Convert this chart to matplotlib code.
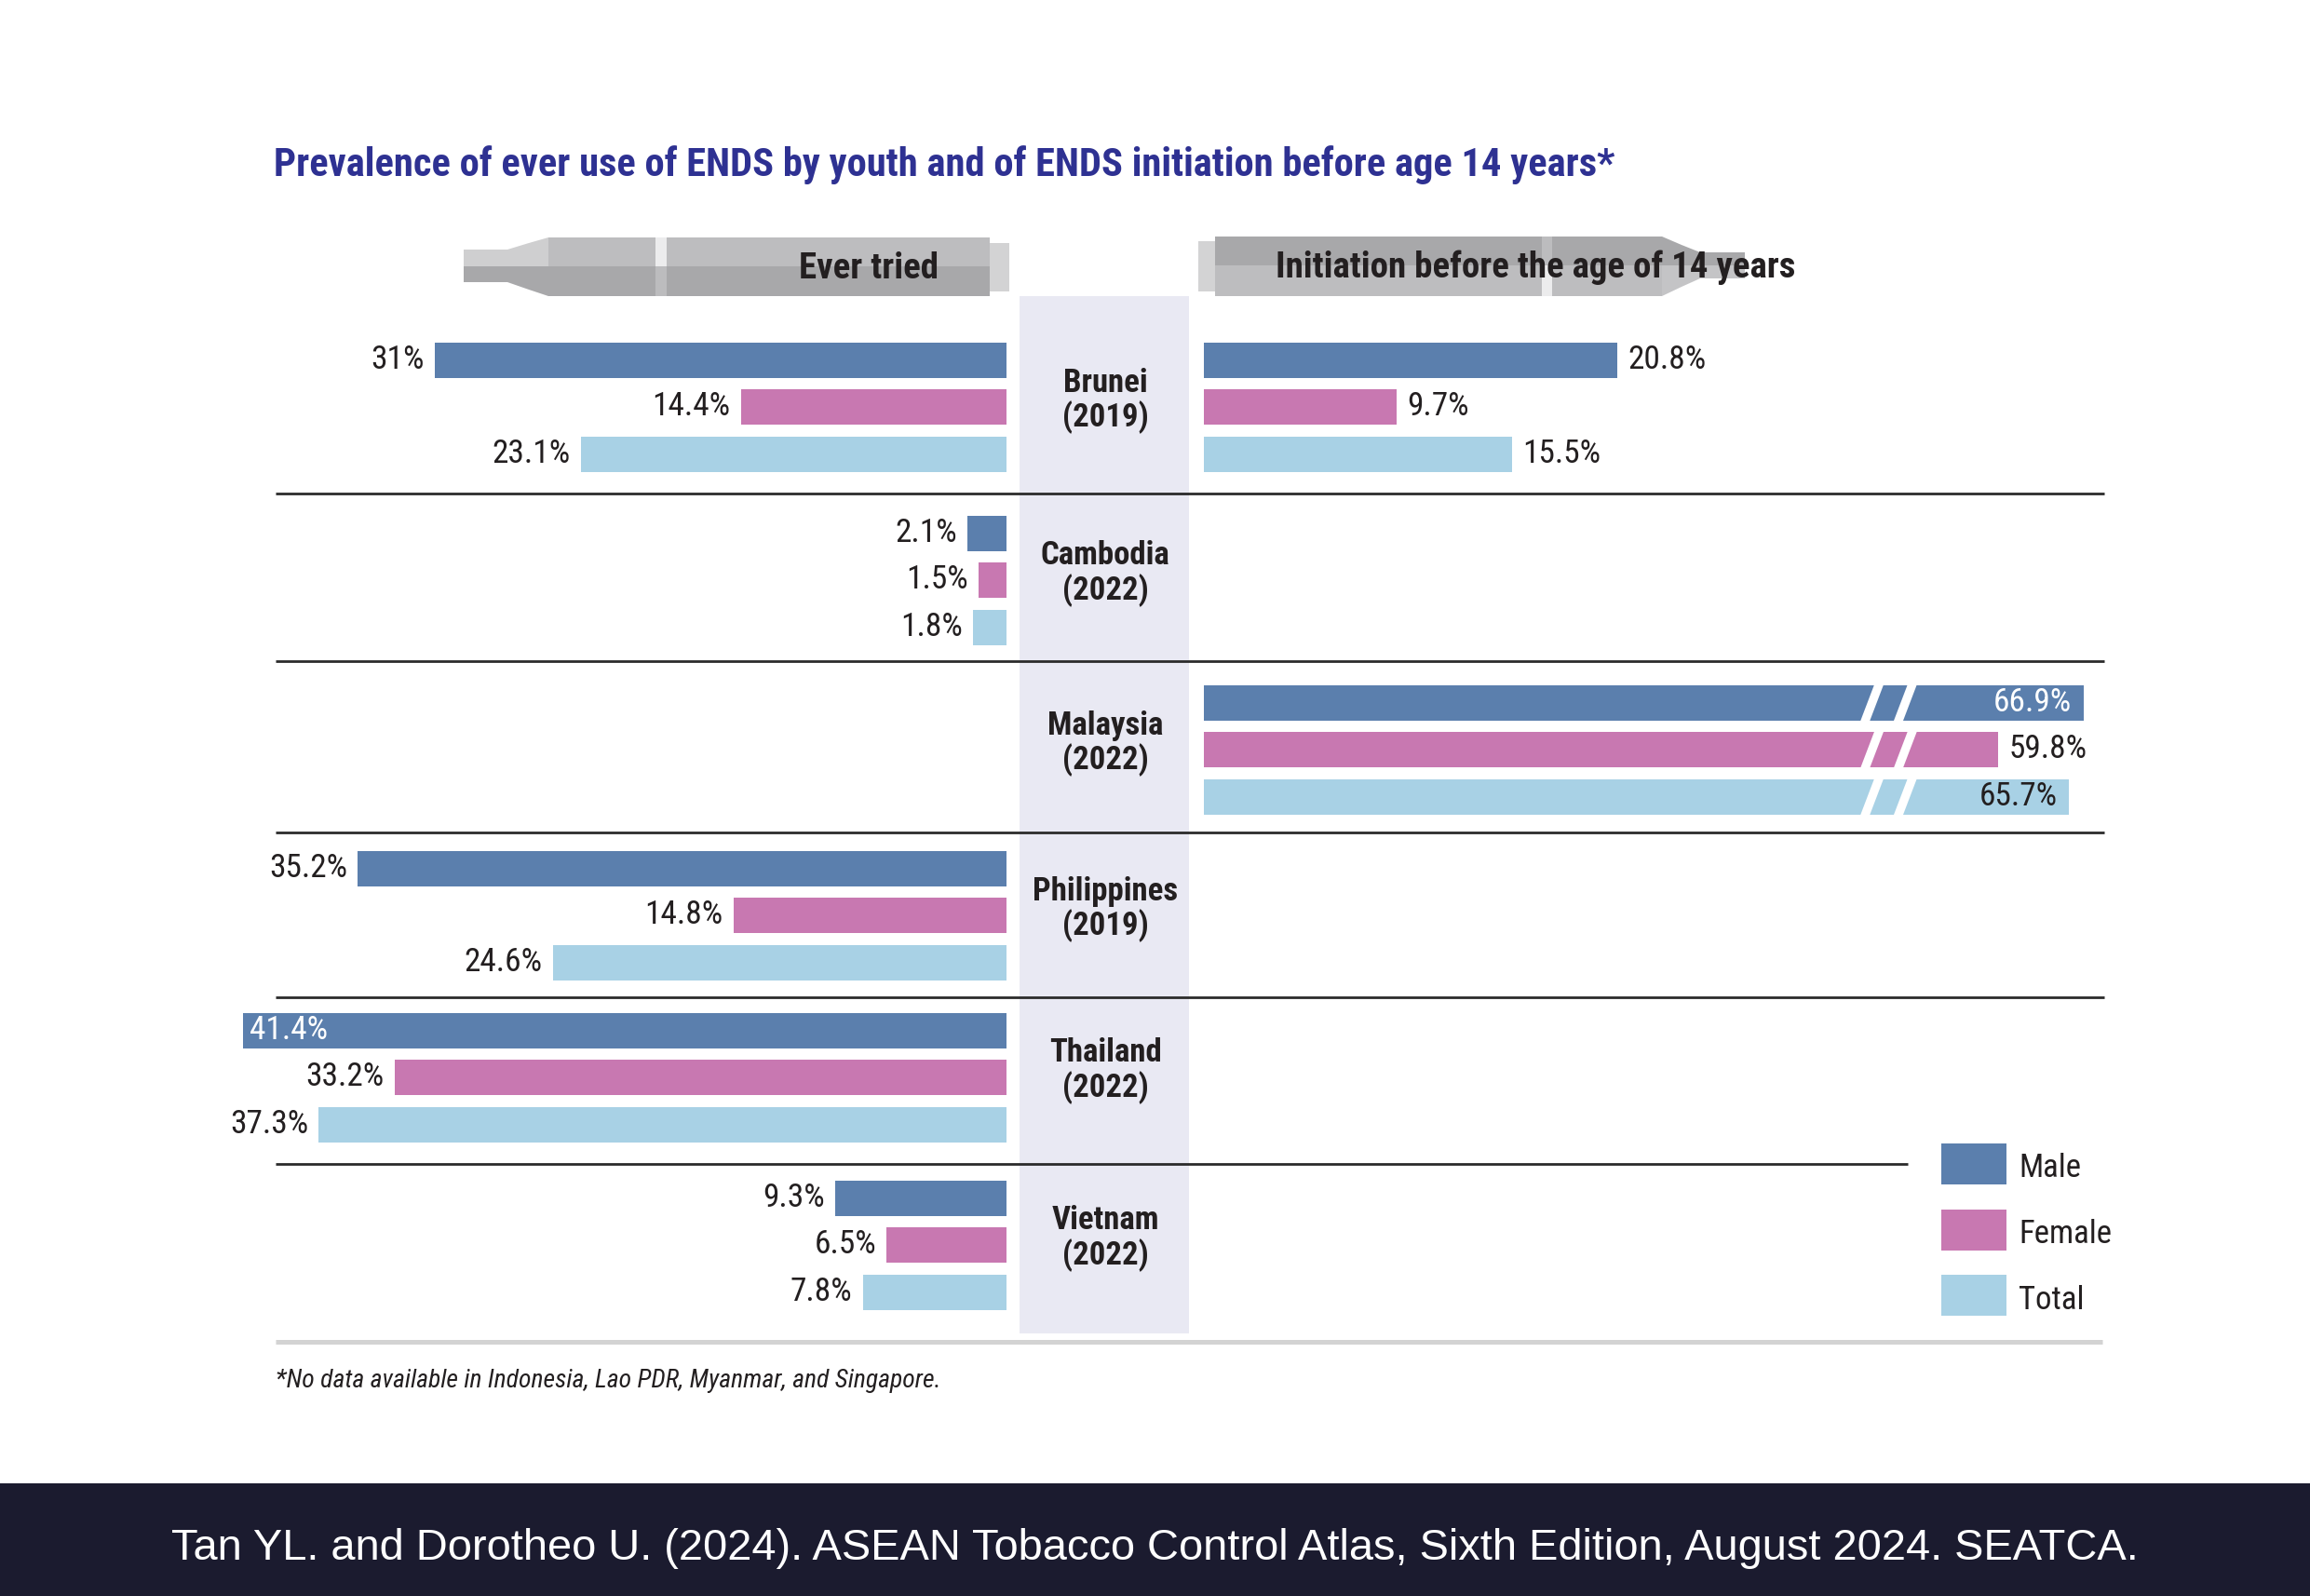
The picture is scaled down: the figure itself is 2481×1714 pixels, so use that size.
import matplotlib
matplotlib.use("Agg")
import matplotlib.pyplot as plt
from matplotlib import font_manager as fm
from matplotlib.patches import Rectangle, Polygon
from matplotlib.transforms import IdentityTransform
import numpy as np

# ---- data ----
countries = ["Brunei", "Cambodia", "Malaysia", "Philippines", "Thailand", "Vietnam"]
years = ["2019", "2022", "2022", "2019", "2022", "2022"]
series = ["Male", "Female", "Total"]
colors = ["#5b7fad", "#c878b1", "#a8d1e5"]

nan = np.nan
ever_male = [31.0, 2.1, nan, 35.2, 41.4, 9.3]
ever_female = [14.4, 1.5, nan, 14.8, 33.2, 6.5]
ever_total = [23.1, 1.8, nan, 24.6, 37.3, 7.8]
init_male = [20.8, nan, 66.9, nan, nan, nan]
init_female = [9.7, nan, 59.8, nan, nan, nan]
init_total = [15.5, nan, 65.7, nan, nan, nan]

title = "Prevalence of ever use of ENDS by youth and of ENDS initiation before age 14 years*"
left_header = "Ever tried"
right_header = "Initiation before the age of 14 years"
footnote = "*No data available in Indonesia, Lao PDR, Myanmar, and Singapore."
source = ("Tan YL. and Dorotheo U. (2024). ASEAN Tobacco Control Atlas, "
          "Sixth Edition, August 2024. SEATCA.")

# ---- fonts ----
names = {f.name for f in fm.fontManager.ttflist}


def pick(*cands):
    for c in cands:
        if c in names:
            return c
    return "DejaVu Sans"


COND = pick("Roboto Condensed", "Liberation Sans Narrow", "Open Sans Condensed",
            "DejaVu Sans Condensed", "Roboto")
SANS = pick("Liberation Sans", "Arial", "DejaVu Sans")
DARK = "#231f20"

W, H = 2481, 1714
fig = plt.figure(figsize=(W / 100, H / 100), dpi=100)
fig.patch.set_facecolor("white")

# background axes in pixel coordinates (y down)
bg = fig.add_axes([0, 0, 1, 1], zorder=0)
bg.set_xlim(0, W)
bg.set_ylim(H, 0)
bg.axis("off")


def rect_px(x0, y0, x1, y1):
    return [x0 / W, 1 - y1 / H, (x1 - x0) / W, (y1 - y0) / H]


# row geometry (pixels from top)
row_y = np.array([437, 623, 805, 983, 1157, 1337])
sep_y = [530, 710, 894, 1071, 1250]
TOP, BOT = 318, 1432
offsets = [-50.5, 0.0, 50.5]
bar_h = 38

# center column
bg.add_patch(Rectangle((1095, TOP), 1277 - 1095, BOT - TOP, color="#e9e9f3", lw=0))

# separators
for i, y in enumerate(sep_y):
    x1 = 2049 if i == len(sep_y) - 1 else 2260
    bg.plot([296, x1], [y, y], color="#2b2b2b", lw=2.0, solid_capstyle="butt")
bg.plot([296, 2258], [1441, 1441], color="#d3d3d3", lw=3.6, solid_capstyle="butt")

# country labels
for c, yr, yc in zip(countries, years, row_y):
    bg.text(1187, yc - 26, c, ha="center", va="center", fontsize=25,
            fontweight="bold", family=COND, color=DARK)
    bg.text(1187, yc + 11, f"({yr})", ha="center", va="center", fontsize=25,
            fontweight="bold", family=COND, color=DARK)

# ---- pen-shaped headers ----
LT, DK, BAND_L, BAND_D, CAP = "#bdbdbf", "#a8a8aa", "#ececed", "#bcbcbe", "#d3d3d4"
# left pen
bg.add_patch(Polygon([(498, 268), (545, 268), (568, 261), (589, 255), (589, 286), (498, 286)],
                     color="#cfcfd0", lw=0))
bg.add_patch(Polygon([(498, 286), (589, 286), (589, 318), (568, 311), (545, 303), (498, 303)],
                     color=DK, lw=0))
bg.add_patch(Rectangle((589, 255), 1063 - 589, 31, color=LT, lw=0))
bg.add_patch(Rectangle((589, 286), 1063 - 589, 32, color=DK, lw=0))
bg.add_patch(Rectangle((704, 255), 12, 31, color=BAND_L, lw=0))
bg.add_patch(Rectangle((704, 286), 12, 32, color=BAND_D, lw=0))
bg.add_patch(Rectangle((1063, 261), 21, 52, color=CAP, lw=0))
bg.text(1008, 288, left_header, ha="right", va="center", fontsize=28,
        fontweight="bold", family=COND, color=DARK)
# right pen
bg.add_patch(Rectangle((1287, 259), 18, 54, color=CAP, lw=0))
bg.add_patch(Rectangle((1305, 254), 1785 - 1305, 31, color=DK, lw=0))
bg.add_patch(Rectangle((1305, 285), 1785 - 1305, 33, color=LT, lw=0))
bg.add_patch(Rectangle((1656, 254), 11, 31, color=BAND_D, lw=0))
bg.add_patch(Rectangle((1656, 285), 11, 33, color=BAND_L, lw=0))
bg.add_patch(Polygon([(1785, 254), (1806, 263), (1826, 271), (1874, 271), (1874, 285), (1785, 285)],
                     color=DK, lw=0))
bg.add_patch(Polygon([(1785, 285), (1874, 285), (1874, 299), (1826, 299), (1806, 308), (1785, 318)],
                     color="#c4c4c6", lw=0))
bg.text(1370, 287, right_header, ha="left", va="center", fontsize=28,
        fontweight="bold", family=COND, color=DARK)

# title
bg.text(294, 177, title, ha="left", va="center", fontsize=30.6, fontweight="bold",
        family=COND, color="#2e3192")

# footnote
bg.text(296, 1483, footnote, ha="left", va="center", fontsize=20, style="italic",
        family=COND, color=DARK)

# footer band
bg.add_patch(Rectangle((0, 1593), W, H - 1593, color="#1b1b2f", lw=0))
bg.text(1240, 1663, source, ha="center", va="center", fontsize=33.8, family=SANS,
        color="white")

# legend
for k, (s, c) in enumerate(zip(series, colors)):
    y0 = 1228 + 70.5 * k
    bg.add_patch(Rectangle((2085, y0), 70, 44, color=c, lw=0))
    bg.text(2168, y0 + 27, s, ha="left", va="center", fontsize=25, family=COND,
            color=DARK)

# ---- data axes ----
ylim = (BOT, TOP)

# left: ever tried (inverted x)
L_PX = 19.8
L_MAX = 41.4
axL = fig.add_axes(rect_px(1081 - L_MAX * L_PX, TOP, 1081, BOT), zorder=2)
axL.patch.set_alpha(0)
axL.set_xlim(L_MAX, 0)
axL.set_ylim(*ylim)
axL.axis("off")

LAB = 25.5
ever = [ever_male, ever_female, ever_total]
for k, vals in enumerate(ever):
    vals = np.array(vals)
    m = ~np.isnan(vals)
    axL.barh(row_y[m] + offsets[k], vals[m], height=bar_h, color=colors[k], lw=0)
    for i in np.flatnonzero(m):
        v = vals[i]
        lab = f"{v:g}%"
        if v > 40:
            axL.annotate(lab, (v, row_y[i] + offsets[k]), xytext=(5, 0),
                         textcoords="offset points", ha="left", va="center",
                         fontsize=LAB, family=COND, color="white")
        else:
            axL.annotate(lab, (v, row_y[i] + offsets[k]), xytext=(-8, 0),
                         textcoords="offset points", ha="right", va="center",
                         fontsize=LAB, family=COND, color=DARK)


# right: initiation before 14, broken scale
def fwd(v):
    v = np.asarray(v, dtype=float)
    return np.where(v <= 30, v, np.where(v <= 50, 30 + (v - 30) * 0.2,
                                         34 + (v - 50) * 0.606))


def inv(u):
    u = np.asarray(u, dtype=float)
    return np.where(u <= 30, u, np.where(u <= 34, 30 + (u - 30) / 0.2,
                                         50 + (u - 34) / 0.606))


R_PX = 21.36
R_MAX = 67.5
r_width = float(fwd(R_MAX)) * R_PX
axR = fig.add_axes(rect_px(1293, TOP, 1293 + r_width, BOT), zorder=2)
axR.patch.set_alpha(0)
axR.set_xscale("function", functions=(fwd, inv))
axR.set_xlim(0, R_MAX)
axR.set_ylim(*ylim)
axR.axis("off")

inside_color = ["white", DARK, DARK]
breaks = [48.0, 52.1]
init = [init_male, init_female, init_total]
for k, vals in enumerate(init):
    vals = np.array(vals)
    m = ~np.isnan(vals)
    axR.barh(row_y[m] + offsets[k], vals[m], height=bar_h, color=colors[k], lw=0)
    for i in np.flatnonzero(m):
        v = vals[i]
        y = row_y[i] + offsets[k]
        lab = f"{v:g}%"
        if v > 62:
            axR.annotate(lab, (v, y), xytext=(-9, 0),
                         textcoords="offset points", ha="right", va="center",
                         fontsize=LAB, family=COND, color=inside_color[k])
        else:
            axR.annotate(lab, (v, y), xytext=(8, 0),
                         textcoords="offset points", ha="left", va="center",
                         fontsize=LAB, family=COND, color=DARK)
        if v > 50:
            # axis-break stripes
            for b in breaks:
                xd, yd = axR.transData.transform((b, y))
                hh, w, s = 21, 10, 16
                pts = [(xd - w / 2 + s / 2, yd + hh), (xd + w / 2 + s / 2, yd + hh),
                       (xd + w / 2 - s / 2, yd - hh), (xd - w / 2 - s / 2, yd - hh)]
                fig.patches.append(Polygon(pts, closed=True, color="white", lw=0,
                                           transform=IdentityTransform(), zorder=5,
                                           figure=fig))

fig.savefig("out.png", dpi=100, facecolor="white")
